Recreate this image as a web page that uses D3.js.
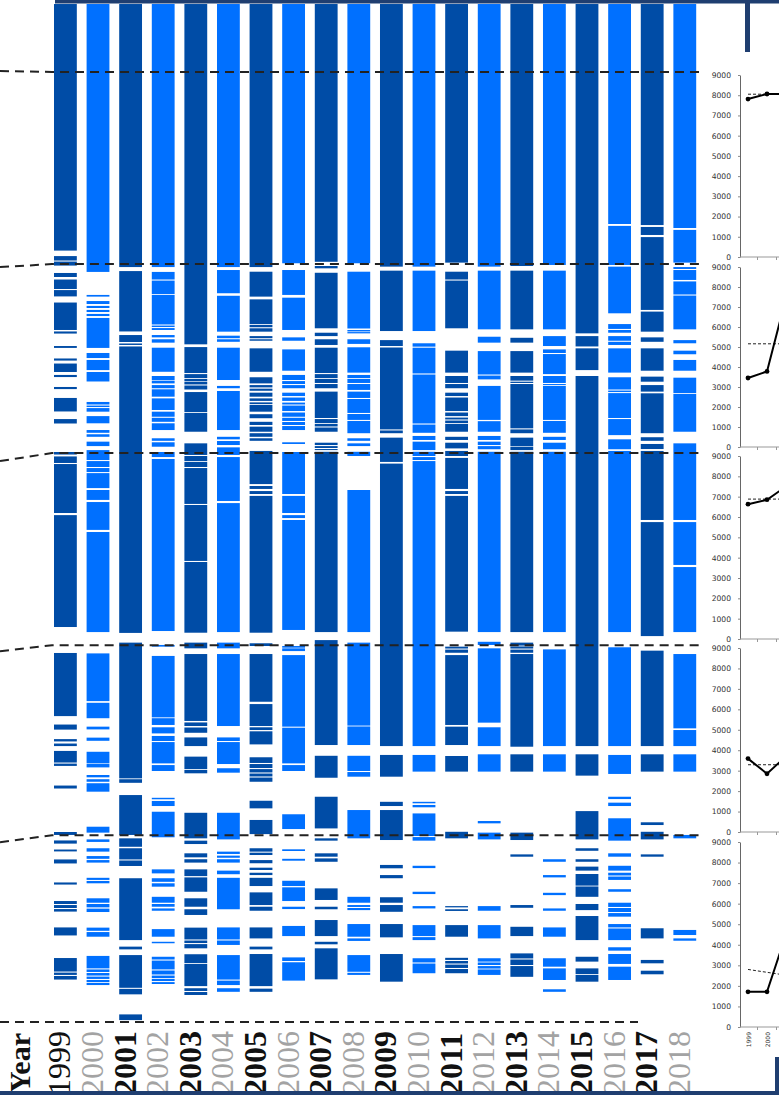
<!DOCTYPE html>
<html>
<head>
<meta charset="utf-8">
<script src="https://cdn.jsdelivr.net/npm/d3@7"></script>
<style>
  body { margin: 0; background: #fff; }
  svg { display: block; }
</style>
</head>
<body>
<script>
// years on the bottom
var years = [1999, 2000, 2001, 2002, 2003, 2004, 2005, 2006, 2007, 2008,
             2009, 2010, 2011, 2012, 2013, 2014, 2015, 2016, 2017, 2018];

// group boundaries (thousands), each group spans ~9000
var breaks = [0, 9.1, 18.05, 27.15, 36.15, 45];

// blocks of every year column: [from, to] in thousands, measured downward
var s1999 = [[-3.22,8.46],[8.72,8.93],[8.98,9.17],[9.52,9.71],[9.83,10.28],[10.33,10.63],[10.92,12.22],[12.29,12.39],[12.98,13.07],[13.57,13.67],[13.81,14.21],[14.35,14.45],[14.92,15.02],[15.44,16.08],[16.44,16.65],[18.0,18.12],[18.21,18.52],[18.57,20.89],[20.99,26.29],[27.52,30.51],[30.91,31.15],[31.60,31.71],[31.81,31.93],[32.16,32.71],[32.76,32.87],[33.80,33.94],[36.0,36.14],[36.40,36.55],[36.83,36.92],[37.30,37.49],[38.39,38.49],[39.27,39.41],[39.46,39.60],[39.65,39.77],[40.52,40.90],[41.97,42.61],[42.66,42.77],[42.82,42.99]];
var s2000 = [[-3.22,9.47],[10.56,10.64],[10.85,10.99],[11.08,11.18],[11.27,11.37],[11.46,11.56],[11.65,13.07],[13.31,13.55],[13.64,14.12],[14.21,14.66],[15.63,15.75],[15.80,15.87],[15.92,16.09],[16.30,16.64],[16.96,17.09],[17.16,17.28],[17.51,17.72],[17.91,18.38],[18.43,18.71],[18.76,18.95],[19.0,19.71],[19.80,20.27],[20.37,21.69],[21.79,26.53],[27.54,29.80],[29.88,30.61],[31.01,31.14],[31.53,31.68],[32.20,32.75],[32.78,32.94],[33.30,33.41],[33.50,33.62],[33.69,34.09],[35.75,36.03],[36.35,36.47],[36.77,36.93],[37.14,37.27],[37.33,37.45],[38.17,38.27],[38.32,38.43],[39.14,39.35],[39.41,39.57],[39.63,39.79],[40.53,40.68],[40.74,40.96],[41.87,42.46],[42.51,42.63],[42.68,42.80],[42.85,42.96],[43.01,43.11],[43.15,43.25]];
var s2001 = [[-3.22,9.24],[9.43,12.29],[12.46,12.79],[12.86,12.93],[13.00,26.57],[27.03,33.46],[33.50,33.67],[34.25,36.14],[36.30,36.70],[36.77,37.30],[37.35,37.61],[38.19,41.12],[41.43,41.56],[41.83,43.38],[43.43,43.69],[44.64,44.91]];
var s2002 = [[-3.22,9.24],[9.47,9.83],[9.88,10.52],[10.56,11.96],[12.01,12.08],[12.13,12.22],[12.46,12.57],[12.66,12.82],[13.06,14.20],[14.40,14.59],[14.62,14.75],[14.83,14.98],[15.03,15.38],[15.46,16.01],[16.09,16.33],[16.38,16.57],[16.64,16.96],[17.35,17.47],[17.54,17.75],[18.0,18.24],[18.33,26.48],[27.14,27.22],[27.66,30.57],[30.61,30.93],[31.04,31.33],[31.45,31.69],[31.74,32.75],[32.83,33.11],[34.38,34.45],[34.53,34.77],[35.04,36.25],[37.77,37.96],[38.19,38.36],[38.43,38.59],[39.07,39.35],[39.41,39.54],[39.62,39.73],[40.60,40.96],[41.20,41.27],[41.91,42.04],[42.09,42.51],[42.56,42.75],[42.80,42.92],[42.96,43.06],[43.11,43.20]];
var s2003 = [[-3.22,12.90],[13.03,14.26],[14.31,14.50],[14.54,14.65],[14.68,14.80],[14.85,15.04],[15.16,16.11],[16.15,17.04],[17.59,18.14],[18.19,18.43],[18.47,18.71],[18.76,20.46],[20.51,23.16],[23.21,26.56],[27.03,27.30],[27.57,30.74],[30.81,30.98],[31.05,31.30],[31.52,31.93],[32.43,33.02],[33.06,33.22],[35.09,36.30],[36.41,36.57],[37.01,37.20],[37.29,37.45],[37.77,38.09],[38.15,38.83],[39.14,39.54],[39.66,39.93],[40.53,41.09],[41.14,41.26],[41.31,41.51],[41.79,42.21],[42.25,43.30],[43.40,43.53],[43.58,43.72]];
var s2004 = [[-3.22,9.24],[9.38,10.48],[10.60,12.30],[12.49,12.61],[12.66,12.78],[13.06,14.59],[14.87,14.98],[15.11,16.96],[17.28,17.40],[17.48,17.67],[17.78,18.14],[18.24,20.32],[20.42,26.53],[27.03,27.30],[27.57,30.98],[31.52,31.69],[31.74,32.78],[32.98,33.19],[35.09,36.35],[36.93,37.04],[37.12,37.22],[37.29,37.45],[37.83,38.00],[38.17,39.66],[40.52,41.09],[41.14,41.35],[41.83,42.99],[43.04,43.25],[43.40,43.57]];
var s2005 = [[-3.22,9.24],[9.46,10.64],[10.77,11.94],[11.98,12.09],[12.14,12.30],[12.51,12.61],[12.66,12.73],[13.09,14.20],[14.46,14.75],[14.83,14.94],[15.00,15.10],[15.19,15.38],[15.46,15.58],[15.65,15.73],[15.77,16.09],[16.21,16.40],[16.57,16.72],[16.80,17.04],[17.11,17.28],[17.35,17.47],[17.95,19.52],[19.61,19.75],[19.85,19.99],[20.08,26.56],[27.06,27.19],[27.57,29.83],[29.94,30.98],[31.04,31.17],[31.23,31.85],[32.46,32.73],[32.78,32.97],[33.02,33.18],[33.23,33.37],[33.42,33.62],[34.52,34.88],[35.43,36.10],[36.77,36.93],[36.98,37.09],[37.33,37.48],[37.69,37.80],[37.93,38.04],[38.17,38.56],[38.86,39.46],[39.54,39.73],[40.52,41.04],[41.43,41.56],[41.78,43.30],[43.42,43.57]];
var s2006 = [[-3.22,9.06],[9.38,10.56],[10.69,12.22],[12.57,12.73],[13.14,14.15],[14.35,14.59],[14.64,14.78],[14.83,14.98],[15.19,15.35],[15.42,15.58],[15.66,15.75],[15.80,16.06],[16.13,16.33],[16.38,16.53],[16.58,16.72],[16.77,16.96],[17.54,17.62],[18.0,19.99],[20.08,20.89],[20.99,21.13],[21.22,26.43],[27.19,27.27],[27.30,27.43],[27.62,31.01],[31.06,32.75],[32.83,33.11],[35.16,35.86],[36.82,36.90],[37.27,37.36],[38.31,38.56],[38.62,39.27],[39.54,39.65],[40.45,40.93],[41.94,42.11],[42.17,43.04]];
var s2007 = [[-3.22,8.99],[9.19,9.30],[9.51,12.14],[12.35,12.51],[12.66,12.93],[13.06,14.26],[14.31,14.50],[14.54,14.73],[14.78,14.98],[15.14,16.39],[16.44,16.63],[16.67,16.79],[16.84,17.04],[17.56,17.67],[17.72,17.81],[17.86,17.91],[17.99,26.53],[26.91,31.88],[32.39,33.43],[34.33,35.83],[36.30,36.41],[37.01,37.17],[37.25,37.41],[38.67,39.22],[39.54,39.66],[40.17,40.93],[41.20,41.32],[41.51,42.98]];
var s2008 = [[-3.22,9.06],[9.46,12.15],[12.22,12.29],[12.32,12.38],[12.66,12.88],[13.04,14.24],[14.35,14.50],[14.54,14.73],[14.78,15.06],[15.14,15.44],[15.49,16.15],[16.20,16.48],[16.53,17.11],[17.35,17.47],[17.59,17.72],[17.99,18.19],[19.80,26.53],[27.03,30.96],[31.00,31.88],[32.39,33.11],[33.16,33.38],[34.96,36.30],[39.07,39.35],[39.46,39.55],[39.60,39.70],[40.36,40.96],[41.04,41.16],[41.83,42.62],[42.67,42.77]];
var s2009 = [[-3.22,9.22],[9.41,12.27],[12.70,12.98],[13.05,16.93],[16.98,17.11],[17.32,18.47],[18.55,31.93],[32.35,33.38],[34.57,34.77],[34.96,36.38],[37.56,37.72],[38.04,38.19],[39.09,39.35],[39.46,39.78],[40.36,40.99],[41.78,43.09]];
var s2010 = [[-3.22,9.22],[9.41,12.27],[12.85,13.01],[13.06,14.28],[14.33,16.65],[16.70,17.09],[17.24,17.43],[17.51,17.91],[17.99,18.19],[18.24,18.38],[18.43,31.93],[32.35,33.14],[34.57,34.64],[34.72,34.83],[35.12,36.19],[36.24,36.41],[37.60,37.71],[38.83,38.94],[39.51,39.62],[40.41,40.93],[40.98,41.12],[41.98,42.18],[42.23,42.69]];
var s2011 = [[-3.22,9.03],[9.46,9.83],[9.88,12.14],[13.20,14.24],[14.40,14.73],[14.78,14.98],[15.19,15.35],[15.42,16.06],[16.13,16.30],[16.37,16.46],[16.51,16.63],[16.67,17.04],[17.28,17.43],[17.56,17.83],[17.95,18.19],[18.28,19.75],[19.85,19.99],[20.08,26.51],[27.22,27.31],[27.36,27.51],[27.62,30.93],[31.01,31.88],[32.40,33.14],[35.99,36.30],[39.51,39.57],[39.66,39.74],[40.41,40.96],[41.96,42.06],[42.11,42.23],[42.28,42.44],[42.49,42.69]];
var s2012 = [[-3.22,9.22],[9.41,12.19],[12.54,12.82],[13.22,14.33],[14.38,14.56],[14.87,16.48],[16.54,17.04],[17.24,17.43],[17.51,17.67],[17.72,17.87],[17.99,26.53],[26.99,27.14],[27.30,30.82],[31.04,31.93],[32.32,33.14],[35.48,35.59],[36.03,36.35],[39.51,39.73],[40.41,41.04],[41.98,42.14],[42.18,42.30],[42.35,42.47],[42.51,42.77]];
var s2013 = [[-3.22,9.19],[9.41,12.19],[12.59,12.82],[13.22,14.24],[14.40,14.62],[14.67,14.73],[14.78,16.88],[16.93,17.11],[17.32,17.72],[17.75,17.91],[17.99,26.53],[27.03,27.17],[27.21,27.31],[27.36,27.51],[27.57,31.96],[32.32,33.14],[36.03,36.38],[37.06,37.17],[39.46,39.59],[40.49,40.93],[41.75,41.99],[42.04,42.30],[42.35,42.86]];
var s2014 = [[-3.22,9.14],[9.41,12.19],[12.51,12.98],[13.14,13.31],[13.36,14.31],[14.40,14.73],[14.78,14.83],[14.87,16.48],[16.53,17.09],[17.28,17.43],[17.56,17.87],[17.99,26.53],[27.35,31.93],[32.32,33.14],[37.29,37.41],[38.04,38.15],[38.88,38.99],[39.62,39.73],[40.52,40.96],[41.98,42.38],[42.46,43.01],[43.45,43.57]];
var s2015 = [[-3.22,12.38],[12.51,13.00],[13.09,14.12],[14.40,31.93],[32.32,33.33],[35.01,36.35],[36.77,36.89],[37.29,37.41],[37.64,37.83],[37.99,38.54],[38.58,39.07],[39.41,39.70],[39.98,41.12],[41.91,42.14],[42.46,42.73],[42.77,43.09]];
var s2016 = [[-3.22,7.20],[7.29,9.14],[9.22,11.43],[11.94,12.17],[12.22,12.35],[12.51,12.73],[12.78,12.93],[13.09,14.24],[14.46,15.04],[15.09,15.16],[15.21,16.39],[16.44,17.20],[17.40,17.87],[17.95,26.53],[27.25,31.93],[32.35,33.25],[34.33,34.44],[34.61,34.77],[35.35,36.41],[37.01,37.17],[37.60,37.83],[37.93,38.06],[38.11,38.27],[38.71,38.83],[39.35,39.55],[39.60,39.79],[39.84,40.01],[40.36,40.52],[40.57,41.12],[41.46,41.62],[41.78,42.25],[42.38,43.01]];
var s2017 = [[-3.22,7.25],[7.34,7.72],[7.82,11.27],[11.35,12.30],[12.57,12.78],[13.09,14.15],[14.43,14.67],[14.83,15.14],[15.22,17.11],[17.30,17.47],[17.62,17.86],[17.95,21.22],[21.32,26.72],[27.41,31.93],[32.32,33.14],[35.54,35.67],[35.99,36.35],[37.06,37.17],[40.56,41.04],[42.06,42.22],[42.57,42.74]];
var s2018 = [[-3.22,7.39],[7.48,9.03],[9.24,9.33],[9.38,9.85],[9.92,10.54],[10.59,12.19],[12.70,12.85],[13.20,13.37],[13.64,14.15],[14.48,15.21],[15.25,17.04],[17.59,21.22],[21.32,23.35],[23.45,26.53],[27.57,31.09],[31.17,31.93],[32.32,33.14],[36.14,36.30],[40.64,40.88],[41.04,41.15]];

var segments = [s1999, s2000, s2001, s2002, s2003, s2004, s2005, s2006, s2007, s2008,
                s2009, s2010, s2011, s2012, s2013, s2014, s2015, s2016, s2017, s2018];

// small line charts on the right, one per group
var panelYears = [1999, 2000, 2001];
var grp1 = [7810, 8060, 8060];
var grp2 = [3450, 3780, 7450];
var grp3 = [6630, 6850, 7500];
var grp4 = [3590, 2850, 3700];
var grp5 = [1710, 1710, 4500];
var refStart = [8050, 5160, 6880, 3290, 2800];
var refEnd = [8050, 5160, 6880, 3290, 2520];
var panelTicks = [0, 1000, 2000, 3000, 4000, 5000, 6000, 7000, 8000, 9000];
var panelXLabels = ["1999", "2000"];

var W = 779, H = 1095;
var svg = d3.select("body").append("svg").attr("width", W).attr("height", H);

var x = d3.scaleBand().domain(years).range([54, 696.2]).paddingInner(0.3).paddingOuter(0);
var y = d3.scaleLinear().domain([0, 45]).range([72, 1022]);

var fills = ["#004ca6", "#0070ff"];

// columns
years.forEach(function(yr, i) {
    svg.append("g").selectAll("rect")
        .data(segments[i])
        .enter()
        .append("rect")
        .attr("x", x(yr))
        .attr("width", x.bandwidth())
        .attr("y", function(d) { return y(d[0]); })
        .attr("height", function(d) { return Math.max(0.8, y(d[1]) - y(d[0])); })
        .attr("fill", fills[i % 2]);
});

// dashed group lines
var lineEnd = [703, 703, 703, 703, 703, 638];
var leftDrop = [-1, 3, 8, 6, 7, 0];
svg.append("g").selectAll("path")
    .data(breaks)
    .enter()
    .append("path")
    .attr("d", function(d, i) {
        var yy = y(d);
        return "M0," + (yy + leftDrop[i]) + "L52," + yy + "L" + lineEnd[i] + "," + yy;
    })
    .attr("fill", "none")
    .attr("stroke", "#222")
    .attr("stroke-width", 2)
    .attr("stroke-dasharray", "9,6");

// right-hand panels
var groups = [grp1, grp2, grp3, grp4, grp5];
var panelTop = [75, 267, 456, 648, 842];
var panelBottom = [257, 447, 639, 832, 1027];
var px = d3.scaleLinear().domain([1999, 2000]).range([748, 767]);

groups.forEach(function(vals, k) {
    var py = d3.scaleLinear().domain([0, 9000]).range([panelBottom[k], panelTop[k]]);
    var g = svg.append("g");

    var ax = g.append("g")
        .attr("transform", "translate(740,0)")
        .call(d3.axisLeft(py).tickValues(panelTicks).tickFormat(d3.format("d"))
            .tickSize(2).tickSizeOuter(0).tickPadding(7));
    ax.select(".domain").attr("stroke", "#666");
    ax.selectAll(".tick line").attr("stroke", "#888");
    ax.selectAll("text")
        .attr("font-family", "DejaVu Sans")
        .attr("font-size", "7.6px")
        .attr("fill", "#333");

    // x axis
    g.append("line")
        .attr("x1", 740).attr("x2", W)
        .attr("y1", panelBottom[k]).attr("y2", panelBottom[k])
        .attr("stroke", "#999").attr("stroke-width", 1);
    g.selectAll(".xt").data([1999.5, 2000.5]).enter().append("line")
        .attr("x1", function(d) { return px(d); }).attr("x2", function(d) { return px(d); })
        .attr("y1", panelBottom[k]).attr("y2", panelBottom[k] + 3)
        .attr("stroke", "#999");

    // reference line
    g.append("line")
        .attr("x1", px(1999)).attr("x2", px(2001))
        .attr("y1", py(refStart[k])).attr("y2", py(refEnd[k]))
        .attr("stroke", "#222").attr("stroke-width", 1)
        .attr("stroke-dasharray", "3,2");

    var line = d3.line()
        .x(function(d, i) { return px(panelYears[i]); })
        .y(function(d) { return py(d); });
    g.append("path").datum(vals)
        .attr("d", line)
        .attr("fill", "none")
        .attr("stroke", "#000")
        .attr("stroke-width", 2);
    g.selectAll("circle").data(vals).enter().append("circle")
        .attr("cx", function(d, i) { return px(panelYears[i]); })
        .attr("cy", function(d) { return py(d); })
        .attr("r", 2.4)
        .attr("fill", "#000");

    if (k === groups.length - 1) {
        g.selectAll(".xl").data(panelXLabels).enter().append("text")
            .attr("transform", function(d) {
                return "translate(" + (px(+d) + 2.5) + "," + (panelBottom[k] + 5) + ") rotate(-90)";
            })
            .attr("text-anchor", "end")
            .attr("font-family", "DejaVu Sans")
            .attr("font-size", "6px")
            .attr("fill", "#333")
            .text(function(d) { return d; });
    }
});

// year labels
svg.append("g").selectAll("text")
    .data(years)
    .enter()
    .append("text")
    .attr("transform", function(d) {
        return "translate(" + (x(d) + x.bandwidth() / 2 + 5) + ",1095) rotate(-90)";
    })
    .attr("font-family", "Liberation Serif")
    .attr("font-size", "32px")
    .attr("font-weight", function(d, i) { return (i % 2 === 0 && i > 0) ? "bold" : "normal"; })
    .attr("fill", function(d, i) { return i % 2 === 0 ? "#111" : "#a3a3a3"; })
    .text(function(d) { return d; });

svg.append("text")
    .attr("transform", "translate(30,1093) rotate(-90)")
    .attr("font-family", "Liberation Serif")
    .attr("font-size", "30px")
    .attr("font-weight", "bold")
    .attr("fill", "#111")
    .text("Year");

// frame pieces
var navy = "#1f3e70";
svg.append("rect").attr("x", 55).attr("y", 0).attr("width", W - 55).attr("height", 3.5).attr("fill", navy);
svg.append("rect").attr("x", 745).attr("y", 0).attr("width", 5).attr("height", 52).attr("fill", navy);
svg.append("rect").attr("x", 0).attr("y", 1091).attr("width", W).attr("height", 4).attr("fill", navy);
svg.append("rect").attr("x", 775).attr("y", 1057).attr("width", 4).attr("height", 38).attr("fill", navy);
</script>
</body>
</html>
